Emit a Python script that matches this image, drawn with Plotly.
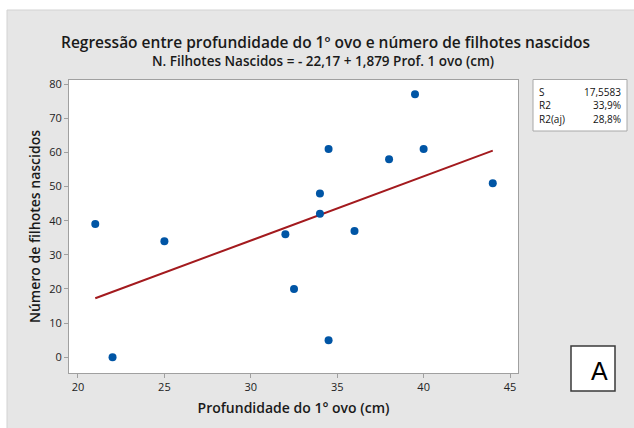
import plotly.graph_objects as go
import numpy as np

prof = [21, 22, 25, 32, 32.5, 34, 34, 34.5, 34.5, 36, 38, 39.5, 40, 44]
filhotes = [39, 0, 34, 36, 20, 48, 42, 61, 5, 37, 58, 77, 61, 51]
intercept = -22.17
slope = 1.879
stat_names = ["S", "R2", "R2(aj)"]
stat_values = ["17,5583", "33,9%", "28,8%"]
x_ticks = [20, 25, 30, 35, 40, 45]
y_ticks = [0, 10, 20, 30, 40, 50, 60, 70, 80]

FONT = "Open Sans"
W, H = 634, 428

xl = np.linspace(min(prof), max(prof), 50)
yl = intercept + slope * xl

fig = go.Figure()
fig.add_trace(go.Scatter(x=xl, y=yl, mode="lines",
                         line=dict(color="#a31a1e", width=2), hoverinfo="skip"))
fig.add_trace(go.Scatter(x=prof, y=filhotes, mode="markers",
                         marker=dict(color="#0055a5", size=8)))

L, R, T, B = 69, 116, 80, 55
pw = W - L - R
ph = H - T - B
def pxp(x):
    return (x - L) / pw
def pyp(y):
    return (H - B - y) / ph

shapes = [
    dict(type="rect", xref="paper", yref="paper", x0=pxp(7), x1=pxp(640), y0=pyp(440), y1=pyp(10),
         fillcolor="#e6e6e6", line=dict(color="#d2d2d2", width=1), layer="below"),
    dict(type="rect", xref="paper", yref="paper", x0=0, x1=1, y0=0, y1=1,
         fillcolor="white", line=dict(width=0), layer="below"),
    dict(type="rect", xref="paper", yref="paper", x0=pxp(533), x1=pxp(627), y0=pyp(131), y1=pyp(79.5),
         fillcolor="white", line=dict(color="#a8a8a8", width=1)),
    dict(type="rect", xref="paper", yref="paper", x0=pxp(571), x1=pxp(615), y0=pyp(391), y1=pyp(346),
         fillcolor="white", line=dict(color="#3a3a3a", width=1.5)),
]

annotations = [
    dict(text="Regressão entre profundidade do 1º ovo e número de filhotes nascidos",
         xref="paper", yref="paper", x=pxp(325), y=pyp(42), showarrow=False,
         font=dict(family=FONT, size=15.5, color="#1a1a1a", weight=600), xanchor="center", yanchor="middle"),
    dict(text="N. Filhotes Nascidos = - 22,17 + 1,879 Prof. 1 ovo (cm)",
         xref="paper", yref="paper", x=pxp(323), y=pyp(61), showarrow=False,
         font=dict(family=FONT, size=13.5, color="#1a1a1a", weight=600), xanchor="center", yanchor="middle"),
    dict(text="A", xref="paper", yref="paper", x=pxp(599), y=pyp(371), showarrow=False,
         font=dict(family="Liberation Sans", size=25, color="black"), xanchor="center", yanchor="middle"),
]
rows_y = [91.5, 105, 119]
for n, v, yy in zip(stat_names, stat_values, rows_y):
    annotations.append(dict(text=n, xref="paper", yref="paper", x=pxp(537), y=pyp(yy),
                            showarrow=False, xanchor="left", yanchor="middle",
                            font=dict(family=FONT, size=10, color="#111")))
    annotations.append(dict(text=v, xref="paper", yref="paper", x=pxp(623), y=pyp(yy),
                            showarrow=False, xanchor="right", yanchor="middle",
                            font=dict(family=FONT, size=10, color="#111")))

axis_common = dict(showline=True, mirror=True, linecolor="#a0a0a0", linewidth=1,
                   ticks="outside", ticklen=4, tickcolor="#a0a0a0", showgrid=False, zeroline=False,
                   tickfont=dict(family=FONT, size=11, color="#222"))

fig.update_layout(
    width=W, height=H, showlegend=False,
    margin=dict(l=L, r=R, t=T, b=B),
    paper_bgcolor="white", plot_bgcolor="white",
    xaxis=dict(range=[19.48, 45.46], tickvals=x_ticks, **axis_common,
               title=dict(text="Profundidade do 1° ovo (cm)", standoff=9,
                          font=dict(family=FONT, size=14, color="#1a1a1a", weight=600))),
    yaxis=dict(range=[-4.6, 81.2], tickvals=y_ticks, **axis_common,
               title=dict(text="Número de filhotes nascidos", standoff=5,
                          font=dict(family=FONT, size=14, color="#1a1a1a", weight=600))),
    shapes=shapes, annotations=annotations,
)

fig.write_html("out.html", config={"displayModeBar": False},
               post_script="document.body.style.margin='0';document.body.style.padding='0';")
